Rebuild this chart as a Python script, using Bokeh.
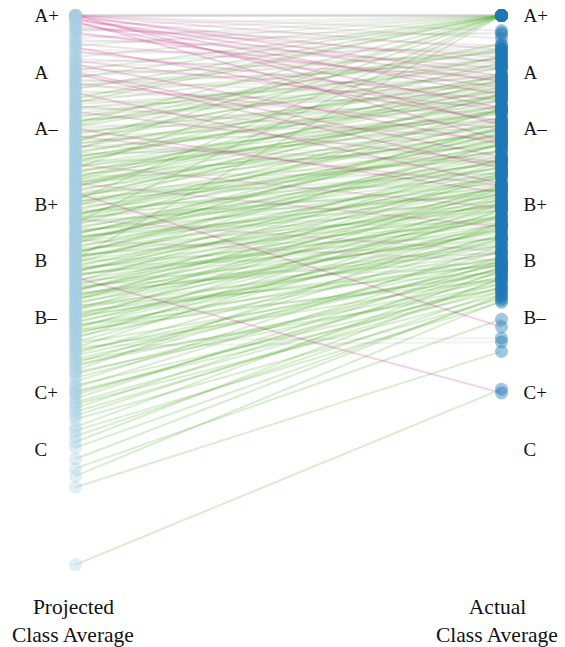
from bokeh.plotting import figure
from bokeh.models import Range1d, Label
from bokeh.core.properties import value
from bokeh.embed import file_html
from bokeh.resources import INLINE

# Projected vs actual class average (grade points), one entry per student
projected = [
    4.30, 4.30, 4.30, 4.30, 4.30, 4.30, 4.30, 4.30, 4.29, 4.30, 4.28, 4.30, 4.27, 4.30, 4.28,
    4.25, 4.24, 4.22, 4.21, 4.23, 4.20, 4.26, 4.22,
    4.18, 4.17, 4.15, 4.14, 4.12, 4.11, 4.16, 4.13, 4.10,
    4.08, 4.07, 4.05, 4.04, 4.03, 4.02, 4.01, 4.06, 4.00, 4.00,
    3.98, 3.97, 3.96, 3.95, 3.94, 3.93, 3.92, 3.91, 3.90, 3.99, 3.93,
    3.88, 3.87, 3.86, 3.85, 3.84, 3.83, 3.82, 3.81, 3.80, 3.89, 3.84, 3.81,
    3.78, 3.77, 3.76, 3.75, 3.74, 3.73, 3.72, 3.71, 3.70, 3.79, 3.74, 3.72, 3.70,
    3.68, 3.67, 3.66, 3.65, 3.64, 3.63, 3.62, 3.61, 3.60, 3.69, 3.66, 3.64, 3.62, 3.60,
    3.58, 3.57, 3.56, 3.55, 3.54, 3.53, 3.52, 3.51, 3.50, 3.59, 3.57, 3.55, 3.53, 3.51, 3.50,
    3.48, 3.47, 3.46, 3.45, 3.44, 3.43, 3.42, 3.41, 3.40, 3.49, 3.47, 3.45, 3.43, 3.42, 3.41, 3.40,
    3.38, 3.37, 3.36, 3.35, 3.34, 3.33, 3.32, 3.31, 3.30, 3.39, 3.37, 3.35, 3.33, 3.32, 3.31, 3.30,
    3.28, 3.27, 3.26, 3.25, 3.24, 3.23, 3.22, 3.21, 3.20, 3.29, 3.27, 3.25, 3.24, 3.23, 3.22, 3.21, 3.20,
    3.18, 3.17, 3.16, 3.15, 3.14, 3.13, 3.12, 3.11, 3.10, 3.19, 3.17, 3.15, 3.14, 3.13, 3.12, 3.11, 3.10,
    3.08, 3.07, 3.06, 3.05, 3.04, 3.03, 3.02, 3.01, 3.00, 3.09, 3.07, 3.05, 3.04, 3.03, 3.02, 3.01, 3.00,
    2.98, 2.97, 2.96, 2.95, 2.94, 2.93, 2.92, 2.91, 2.90, 2.99, 2.97, 2.95, 2.94, 2.93, 2.92, 2.90,
    2.88, 2.87, 2.86, 2.85, 2.84, 2.83, 2.82, 2.81, 2.80, 2.89, 2.87, 2.85, 2.84, 2.82, 2.80,
    2.78, 2.77, 2.76, 2.75, 2.74, 2.73, 2.72, 2.71, 2.70, 2.79, 2.76, 2.74, 2.71,
    2.68, 2.67, 2.66, 2.65, 2.64, 2.63, 2.62, 2.61, 2.60, 2.69, 2.66, 2.63,
    2.58, 2.57, 2.56, 2.55, 2.54, 2.53, 2.52, 2.51, 2.50, 2.59,
    2.48, 2.46, 2.45, 2.44, 2.42, 2.41, 2.40, 2.47,
    2.38, 2.36, 2.34, 2.33, 2.31, 2.30,
    2.29, 2.27, 2.25, 2.24, 2.22, 2.20,
    2.18, 2.16, 2.12, 2.10,
    2.07, 2.04, 2.01,
    1.95, 1.90, 1.86, 1.80, 1.39,
]

actual = [
    4.30, 4.30, 4.30, 4.30, 4.30, 4.30, 4.22, 4.12, 4.05, 3.98, 3.88, 3.72, 3.64, 4.18, 3.95,
    4.30, 4.08, 4.30, 3.92, 4.14, 4.02, 3.81, 4.20,
    4.30, 4.10, 3.96, 4.30, 4.06, 3.85, 4.21, 3.74, 4.12,
    4.30, 3.98, 4.14, 3.62, 4.08, 3.90, 4.30, 3.80, 4.03, 3.55,
    4.10, 4.30, 3.86, 4.02, 3.70, 4.12, 3.96, 4.30, 3.82, 3.49, 4.05,
    4.07, 3.92, 4.30, 3.78, 4.11, 3.98, 3.64, 4.02, 3.88, 3.41, 4.30, 3.94,
    4.04, 3.90, 4.12, 3.81, 3.99, 4.30, 3.69, 4.08, 3.86, 3.52, 3.95, 4.15, 3.36,
    3.92, 4.02, 3.74, 3.95, 3.68, 4.30, 3.85, 3.52, 3.98, 3.80, 3.40, 4.08, 3.90, 3.75,
    3.85, 3.98, 3.66, 3.90, 3.78, 3.55, 4.05, 3.82, 3.72, 4.30, 3.60, 3.88, 3.94, 3.28, 3.79,
    3.74, 3.88, 3.61, 3.80, 3.98, 3.67, 3.53, 3.85, 3.72, 4.30, 3.78, 3.46, 3.92, 3.64, 3.18, 3.82,
    3.66, 3.80, 2.65, 3.55, 3.72, 3.88, 3.47, 3.69, 3.58, 3.96, 3.40, 3.76, 3.51, 4.30, 3.63, 3.33,
    3.58, 3.70, 3.45, 3.64, 3.80, 3.38, 3.52, 3.67, 3.41, 3.88, 3.28, 3.49, 3.74, 3.61, 3.05, 3.35, 4.30,
    3.49, 3.62, 3.36, 3.55, 3.70, 3.28, 3.44, 3.59, 3.38, 3.80, 3.20, 3.47, 3.65, 3.32, 3.53, 3.00, 3.68,
    3.40, 3.54, 3.27, 3.47, 3.62, 3.20, 3.35, 3.50, 3.30, 3.71, 3.12, 3.38, 3.58, 3.23, 3.44, 4.30, 3.08,
    3.32, 3.46, 3.19, 3.39, 3.54, 3.12, 3.27, 2.30, 3.23, 3.62, 3.04, 3.30, 3.43, 3.16, 3.35, 2.99,
    3.24, 3.38, 3.12, 3.31, 3.46, 3.05, 3.19, 3.34, 3.15, 3.52, 2.97, 3.22, 3.36, 3.08, 3.27,
    3.16, 3.30, 3.04, 3.23, 3.40, 2.98, 3.11, 3.26, 3.08, 3.45, 2.94, 3.18, 3.01,
    3.10, 3.24, 2.99, 3.17, 3.33, 2.93, 3.05, 3.20, 3.02, 3.38, 2.90, 3.13,
    2.59, 3.18, 2.95, 2.57, 3.27, 2.91, 3.00, 3.14, 2.98, 3.30,
    2.98, 3.12, 2.90, 3.05, 3.20, 2.88, 2.96, 2.85,
    2.96, 3.08, 2.86, 3.02, 2.84, 2.92,
    2.94, 3.00, 2.88, 2.82, 2.97, 2.86,
    2.90, 2.80, 2.95, 2.78,
    2.84, 2.91, 2.81,
    2.82, 2.69, 2.79, 2.52, 2.32,
]

grade_labels = ["A+", "A", "A\u2013", "B+", "B", "B\u2013", "C+", "C"]
grade_points = [4.3, 4.0, 3.7, 3.3, 3.0, 2.7, 2.3, 2.0]
axis_titles = [["Projected", "Class Average"], ["Actual", "Class Average"]]

assert len(projected) == len(actual)

# ---- layout (pixels inside the figure) ----
W, H = 563, 647
X_LEFT_PX, X_RIGHT_PX = 75, 501          # column centres
Y_TOP_PX, PX_PER_PT = 15, 188.7          # y of 4.3, pixels per grade point
TOP_VAL = 4.3

def px_to_x(px):
    return (px - X_LEFT_PX) / (X_RIGHT_PX - X_LEFT_PX)

def py_to_y(py):
    return TOP_VAL - (py - Y_TOP_PX) / PX_PER_PT

p = figure(width=W, height=H, output_backend="svg", toolbar_location=None,
           x_range=Range1d(px_to_x(0), px_to_x(W)),
           y_range=Range1d(py_to_y(H), py_to_y(0)),
           x_axis_type=None, y_axis_type=None,
           min_border=0, min_border_left=0, min_border_right=0,
           min_border_top=0, min_border_bottom=0)
p.grid.visible = False
p.outline_line_color = None
p.background_fill_color = "white"
p.border_fill_color = "white"

# ---- line colours from change ----
def hex2rgb(h):
    h = h.lstrip("#")
    return tuple(int(h[i:i + 2], 16) for i in (0, 2, 4))

def mix(c1, c2, t):
    a, b = hex2rgb(c1), hex2rgb(c2)
    return "#%02x%02x%02x" % tuple(int(round(a[i] + (b[i] - a[i]) * t)) for i in range(3))

NEUTRAL, GREEN, PINK = "#c4c4c4", "#4dac26", "#d01c8b"

def line_color(d):
    t = min(abs(d) / 0.35, 1.0)
    return mix(NEUTRAL, GREEN if d > 0 else PINK, t)

order = sorted(range(len(projected)),
               key=lambda i: (0 if abs(actual[i] - projected[i]) < 0.1 else (1 if actual[i] > projected[i] else 2)))
xs = [[0, 1] for _ in order]
ys = [[projected[i], actual[i]] for i in order]
cols = [line_color(actual[i] - projected[i]) for i in order]
p.multi_line(xs=xs, ys=ys, line_color=cols, line_alpha=0.21, line_width=2)

# ---- points ----
p.scatter(x=[0] * len(projected), y=projected, size=13,
          fill_color="#a6cee3", fill_alpha=0.35, line_color=None)
p.scatter(x=[1] * len(actual), y=actual, size=13,
          fill_color="#1f78b4", fill_alpha=0.42, line_color=None)

# ---- grade labels ----
SERIF = "Liberation Serif"
p.text(x=[px_to_x(34)] * len(grade_points), y=grade_points, text=grade_labels,
       text_font=value(SERIF), text_font_size="19px", text_align="left",
       text_baseline="middle", text_color="#111111")
p.text(x=[px_to_x(523)] * len(grade_points), y=grade_points, text=grade_labels,
       text_font=value(SERIF), text_font_size="19px", text_align="left",
       text_baseline="middle", text_color="#111111")

# ---- bottom titles ----
for cx, lines in zip([px_to_x(73), px_to_x(497)], axis_titles):
    for k, txt in enumerate(lines):
        p.add_layout(Label(x=cx, y=py_to_y(606 + 28 * k), text=txt,
                           text_font=SERIF, text_font_size="21.5px",
                           text_align="center", text_baseline="middle",
                           text_color="#111111"))

open("out.html", "w").write(file_html(p, INLINE))
